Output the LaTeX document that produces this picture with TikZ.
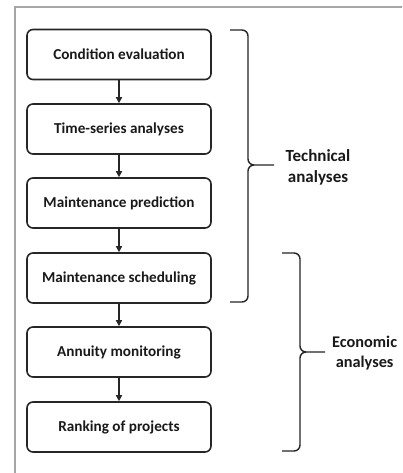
\documentclass[tikz,border=0pt]{standalone}
\usepackage{fontspec}
\setmainfont{Carlito}
\usetikzlibrary{arrows.meta}
\tikzset{
  stepbox/.style={draw=black!85, line width=1.6pt, rounded corners=6pt, minimum width=184pt, minimum height=50pt, inner sep=0pt, font=\bfseries\fontsize{15.2}{17}\selectfont, text=black!90},
  flowarrow/.style={line width=1.4pt, draw=black!85, -{Triangle[length=6pt,width=6pt]}},
  bracepath/.style={line width=1.4pt, draw=black!85},
  grouplabel/.style={font=\bfseries\fontsize{17}{21}\selectfont, align=center, text=black!90, inner sep=0pt}
}
\begin{document}
\begin{tikzpicture}[x=1pt,y=-1pt]
\useasboundingbox (0,0) rectangle (402,473);
\clip (0,0) rectangle (402,473);
\fill[white] (0,0) rectangle (402,473);
\draw[gray!70, line width=1.2pt] (15,480) -- (15,7) -- (410,7);

\node[stepbox] (b1) at (119,54.5) {Condition evaluation};
\node[stepbox] (b2) at (119,129) {Time-series analyses};
\node[stepbox] (b3) at (119,203) {Maintenance prediction};
\node[stepbox] (b4) at (119,278) {Maintenance scheduling};
\node[stepbox] (b5) at (119,352) {Annuity monitoring};
\node[stepbox] (b6) at (119,427) {Ranking of projects};

\draw[flowarrow] (b1) -- (b2);
\draw[flowarrow] (b2) -- (b3);
\draw[flowarrow] (b3) -- (b4);
\draw[flowarrow] (b4) -- (b5);
\draw[flowarrow] (b5) -- (b6);

% Technical brace
\draw[bracepath] (230,30) -- (242,30) to[out=0,in=90] (248,36) -- (248,159)
  to[out=-90,in=180] (254,165) -- (274,165);
\draw[bracepath] (254,165) to[out=180,in=90] (248,171) -- (248,296)
  to[out=-90,in=0] (242,302) -- (230,302);
\node[grouplabel] (tech) at (318,167) {Technical\\analyses};

% Economic brace
\draw[bracepath] (282,253) -- (294,253) to[out=0,in=90] (300,259) -- (300,346)
  to[out=-90,in=180] (306,352) -- (325,352);
\draw[bracepath] (306,352) to[out=180,in=90] (300,358) -- (300,445)
  to[out=-90,in=0] (294,451) -- (282,451);
\node[grouplabel, anchor=west, font=\bfseries\fontsize{16.3}{20.5}\selectfont] (econ) at (332,353) {Economic\\analyses};
\end{tikzpicture}
\end{document}
